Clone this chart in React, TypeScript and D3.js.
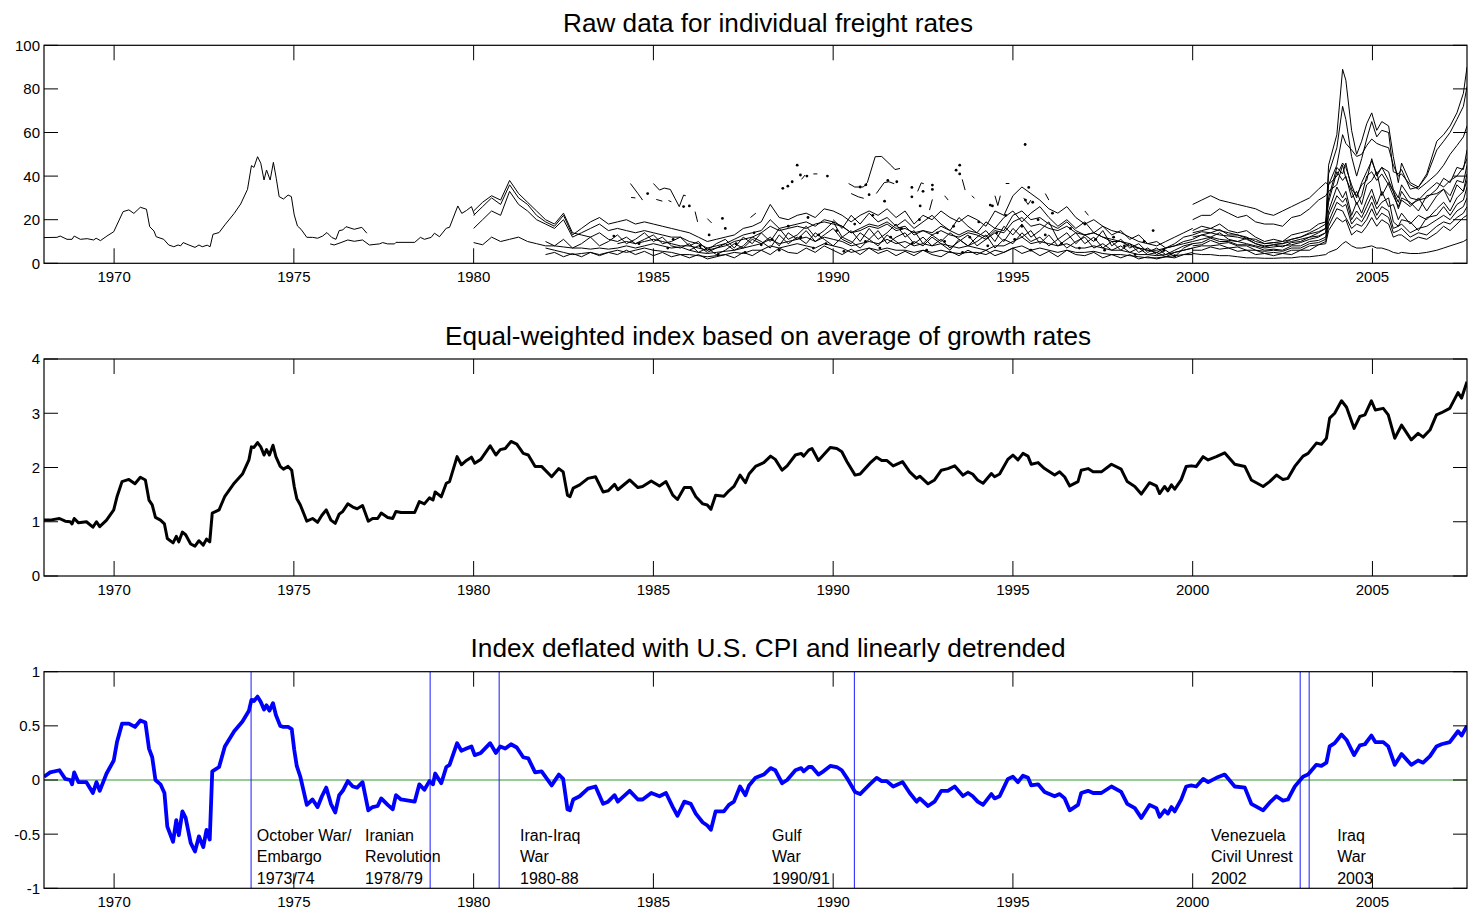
import * as d3 from "d3";

const W = 1468;
const H = 909;
const PLOT_LEFT = 44;
const PLOT_RIGHT = 1467;
const X_DOMAIN = [1968.05, 2007.63];
const X_TICKS = [1970, 1975, 1980, 1985, 1990, 1995, 2000, 2005];
const FONT = "'Liberation Sans', Arial, sans-serif";

// index series (middle + bottom panels share the same dates)
const INDEX_DATES = [
  1968.05, 1968.22, 1968.48, 1968.64, 1968.78, 1968.83, 1968.89, 1969.01, 1969.23, 1969.41,
  1969.51, 1969.6, 1969.79, 1969.99, 1970.08, 1970.22, 1970.41, 1970.58, 1970.73, 1970.87,
  1970.97, 1971.06, 1971.15, 1971.29, 1971.4, 1971.48, 1971.64, 1971.73, 1971.8, 1971.9,
  1971.99, 1972.13, 1972.25, 1972.36, 1972.48, 1972.57, 1972.66, 1972.73, 1972.92, 1973.08,
  1973.34, 1973.57, 1973.75, 1973.82, 1973.89, 1973.99, 1974.08, 1974.17, 1974.24, 1974.32,
  1974.42, 1974.5, 1974.62, 1974.71, 1974.84, 1974.94, 1975.01, 1975.08, 1975.18, 1975.36,
  1975.52, 1975.66, 1975.78, 1975.9, 1976.03, 1976.15, 1976.26, 1976.36, 1976.5, 1976.64,
  1976.76, 1976.91, 1977.07, 1977.19, 1977.33, 1977.43, 1977.61, 1977.75, 1977.84, 1977.98,
  1978.36, 1978.49, 1978.63, 1978.77, 1978.87, 1978.93, 1979.1, 1979.24, 1979.33, 1979.54,
  1979.66, 1979.8, 1979.94, 1980.03, 1980.2, 1980.46, 1980.62, 1980.74, 1980.88, 1981.04,
  1981.2, 1981.38, 1981.52, 1981.71, 1981.89, 1982.17, 1982.37, 1982.49, 1982.61, 1982.68,
  1982.77, 1982.95, 1983.18, 1983.39, 1983.6, 1983.74, 1983.92, 1984.01, 1984.34, 1984.57,
  1984.7, 1984.94, 1985.17, 1985.35, 1985.54, 1985.67, 1985.86, 1986.04, 1986.18, 1986.37,
  1986.5, 1986.6, 1986.73, 1986.96, 1987.1, 1987.24, 1987.41, 1987.56, 1987.66, 1987.84,
  1988.07, 1988.26, 1988.39, 1988.58, 1988.72, 1988.95, 1989.11, 1989.18, 1989.32, 1989.41,
  1989.59, 1989.73, 1989.92, 1990.1, 1990.24, 1990.38, 1990.61, 1990.75, 1991.02, 1991.21,
  1991.35, 1991.49, 1991.67, 1991.93, 1992.13, 1992.32, 1992.41, 1992.64, 1992.82, 1993.01,
  1993.19, 1993.38, 1993.61, 1993.75, 1993.88, 1994.02, 1994.17, 1994.4, 1994.49, 1994.63,
  1994.86, 1995.0, 1995.14, 1995.28, 1995.42, 1995.51, 1995.7, 1995.88, 1996.16, 1996.3,
  1996.44, 1996.58, 1996.81, 1996.9, 1997.09, 1997.23, 1997.46, 1997.74, 1998.01, 1998.18,
  1998.39, 1998.57, 1998.8, 1998.99, 1999.08, 1999.22, 1999.31, 1999.41, 1999.5, 1999.68,
  1999.82, 1999.96, 2000.1, 2000.29, 2000.43, 2000.66, 2000.89, 2001.17, 2001.45, 2001.63,
  2001.96, 2002.14, 2002.33, 2002.51, 2002.65, 2002.84, 2003.07, 2003.21, 2003.44, 2003.58,
  2003.72, 2003.81, 2003.95, 2004.14, 2004.28, 2004.49, 2004.65, 2004.79, 2004.97, 2005.08,
  2005.3, 2005.44, 2005.62, 2005.81, 2006.08, 2006.27, 2006.41, 2006.6, 2006.78, 2006.92,
  2007.15, 2007.38, 2007.48, 2007.63,
];

const EQUAL_WEIGHTED = [
  1.03, 1.03, 1.06, 1.01, 1.0, 0.96, 1.06, 0.98, 1.0, 0.9,
  1.0, 0.91, 1.03, 1.22, 1.46, 1.74, 1.78, 1.7, 1.82, 1.77,
  1.4, 1.31, 1.08, 1.03, 0.96, 0.69, 0.61, 0.73, 0.63, 0.81,
  0.76, 0.59, 0.55, 0.65, 0.57, 0.68, 0.63, 1.16, 1.22, 1.47,
  1.71, 1.88, 2.14, 2.38, 2.37, 2.46, 2.38, 2.23, 2.33, 2.23,
  2.41, 2.2, 2.02, 1.97, 2.02, 1.95, 1.65, 1.43, 1.31, 1.01,
  1.06, 0.99, 1.12, 1.22, 1.03, 0.97, 1.14, 1.19, 1.33, 1.27,
  1.24, 1.3, 1.01, 1.06, 1.06, 1.16, 1.08, 1.06, 1.19, 1.17,
  1.17, 1.37, 1.33, 1.44, 1.4, 1.55, 1.46, 1.71, 1.74, 2.2,
  2.05, 2.13, 2.19, 2.08, 2.15, 2.4, 2.23, 2.33, 2.35, 2.48,
  2.43, 2.26, 2.23, 2.02, 2.02, 1.83, 1.98, 1.92, 1.49, 1.46,
  1.62, 1.68, 1.8, 1.83, 1.55, 1.57, 1.69, 1.59, 1.77, 1.63,
  1.65, 1.75, 1.66, 1.74, 1.49, 1.41, 1.63, 1.63, 1.46, 1.33,
  1.31, 1.23, 1.49, 1.47, 1.57, 1.65, 1.86, 1.72, 1.88, 2.02,
  2.09, 2.21, 2.15, 1.95, 2.03, 2.23, 2.26, 2.21, 2.32, 2.35,
  2.13, 2.23, 2.37, 2.35, 2.29, 2.11, 1.86, 1.88, 2.08, 2.19,
  2.13, 2.13, 2.03, 2.11, 1.92, 1.8, 1.84, 1.7, 1.77, 1.95,
  1.98, 2.03, 1.86, 1.92, 1.88, 1.77, 1.71, 1.89, 1.83, 1.88,
  2.15, 2.23, 2.14, 2.26, 2.21, 2.06, 2.09, 1.98, 1.86, 1.92,
  1.83, 1.66, 1.74, 1.95, 1.98, 1.92, 1.92, 2.06, 1.97, 1.74,
  1.65, 1.51, 1.72, 1.66, 1.52, 1.65, 1.57, 1.68, 1.6, 1.77,
  2.02, 2.03, 2.02, 2.2, 2.14, 2.2, 2.27, 2.06, 2.02, 1.77,
  1.65, 1.74, 1.86, 1.78, 1.8, 2.02, 2.21, 2.26, 2.45, 2.43,
  2.54, 2.91, 3.0, 3.23, 3.11, 2.72, 2.94, 2.97, 3.23, 3.06,
  3.09, 2.97, 2.54, 2.78, 2.51, 2.63, 2.56, 2.69, 2.97, 3.01,
  3.09, 3.38, 3.28, 3.58,
];

const DETRENDED = [
  0.03, 0.07, 0.09, 0.01, 0.0, -0.04, 0.07, -0.02, -0.02, -0.12,
  -0.02, -0.1, 0.06, 0.18, 0.35, 0.52, 0.52, 0.49, 0.55, 0.53,
  0.29, 0.21, 0.0, -0.04, -0.12, -0.43, -0.57, -0.37, -0.51, -0.29,
  -0.35, -0.58, -0.66, -0.52, -0.62, -0.46, -0.55, 0.08, 0.12, 0.31,
  0.45, 0.54, 0.64, 0.74, 0.73, 0.77, 0.72, 0.65, 0.69, 0.64,
  0.71, 0.6, 0.5, 0.49, 0.49, 0.47, 0.28, 0.13, 0.03, -0.23,
  -0.18, -0.25, -0.15, -0.07, -0.22, -0.3, -0.14, -0.1, -0.01, -0.06,
  -0.07, -0.02, -0.28, -0.25, -0.24, -0.17, -0.23, -0.27, -0.14, -0.18,
  -0.2, -0.04, -0.09, -0.01, -0.04, 0.06, -0.03, 0.12, 0.14, 0.34,
  0.27, 0.29, 0.31, 0.23, 0.25, 0.34, 0.25, 0.31, 0.29, 0.33,
  0.3, 0.21, 0.2, 0.07, 0.08, -0.05, 0.05, 0.01, -0.27, -0.28,
  -0.18, -0.15, -0.08, -0.06, -0.22, -0.2, -0.14, -0.2, -0.1, -0.18,
  -0.18, -0.12, -0.15, -0.12, -0.25, -0.33, -0.2, -0.22, -0.31, -0.39,
  -0.42, -0.46, -0.29, -0.29, -0.23, -0.2, -0.06, -0.14, -0.05, 0.02,
  0.05, 0.11, 0.09, -0.03, 0.0, 0.09, 0.11, 0.08, 0.12, 0.12,
  0.05, 0.08, 0.13, 0.12, 0.09, 0.02, -0.11, -0.13, -0.04, 0.02,
  -0.01, -0.01, -0.06, -0.02, -0.12, -0.2, -0.17, -0.24, -0.2, -0.1,
  -0.1, -0.06, -0.15, -0.12, -0.15, -0.2, -0.23, -0.13, -0.17, -0.15,
  0.01, 0.03, -0.02, 0.04, 0.02, -0.05, -0.04, -0.11, -0.15, -0.13,
  -0.17, -0.28, -0.23, -0.12, -0.1, -0.12, -0.12, -0.06, -0.11, -0.22,
  -0.26, -0.35, -0.23, -0.26, -0.34, -0.28, -0.31, -0.25, -0.29, -0.18,
  -0.06, -0.05, -0.06, 0.01, -0.02, 0.02, 0.05, -0.06, -0.07, -0.22,
  -0.28, -0.21, -0.15, -0.19, -0.18, -0.06, 0.03, 0.05, 0.14, 0.13,
  0.16, 0.31, 0.34, 0.42, 0.37, 0.23, 0.32, 0.33, 0.41, 0.35,
  0.35, 0.31, 0.14, 0.24, 0.14, 0.18, 0.16, 0.22, 0.31, 0.33,
  0.35, 0.45, 0.41, 0.5,
];

// raw freight rates: two early series
const EARLY_A_DATES = [
  1968.05, 1968.41, 1968.5, 1968.69, 1968.83, 1968.89, 1969.06, 1969.25, 1969.43, 1969.5,
  1969.62, 1969.8, 1969.99, 1970.25, 1970.41, 1970.55, 1970.73, 1970.9, 1970.99, 1971.11,
  1971.17, 1971.38, 1971.52, 1971.66, 1971.78, 1971.85, 1971.92, 1972.08, 1972.25, 1972.36,
  1972.45, 1972.59, 1972.67, 1972.75, 1972.92, 1973.08, 1973.34, 1973.52, 1973.71, 1973.82,
  1973.89, 1973.99, 1974.08, 1974.17, 1974.24, 1974.34, 1974.43, 1974.51, 1974.59, 1974.71,
  1974.84, 1974.93, 1975.01, 1975.1, 1975.2, 1975.36, 1975.52, 1975.66, 1975.8, 1975.92,
  1976.05, 1976.17, 1976.26, 1976.36, 1976.45, 1976.68, 1976.89, 1977.03,
];
const EARLY_A = [
  11.8, 11.9, 12.5, 11, 11, 12.5, 11, 11.3, 10.7, 11.5,
  10.4, 12.5, 14.5, 23.7, 24.5, 22.9, 25.7, 24.8, 16.8, 14.8,
  12.2, 11, 8.4, 7.6, 8.4, 8, 9.5, 8.4, 7.3, 8.4,
  7.6, 8.3, 7.6, 13.3, 14.1, 17.6, 22.9, 27.2, 33.9, 44.8,
  44, 48.9, 45.9, 38.2, 42.8, 38.2, 46.3, 39, 30.6, 29.5,
  31.3, 30.6, 22.2, 17.1, 15.6, 11.9, 11.9, 11.5, 12.5, 14.1,
  11.9, 11, 15, 15.3, 16.8, 15.6, 16.5, 13.8,
];
const EARLY_B_DATES = [
  1976.01, 1976.12, 1976.31, 1976.5, 1976.68, 1976.91, 1977.1, 1977.38, 1977.47, 1977.61,
  1977.8, 1977.84, 1978.36, 1978.52, 1978.63, 1978.82, 1978.91, 1979.05, 1979.24, 1979.33,
  1979.56, 1979.67, 1979.8, 1979.94, 1980.03,
];
const EARLY_B = [
  8.9, 8.4, 9.5, 10.7, 10.1, 10.7, 8.4, 8.9, 9.5, 8.9,
  8.9, 9.6, 9.6, 11.9, 11, 11.9, 13.8, 12.2, 16.1, 16.5,
  26.3, 22.9, 24.2, 26, 22,
];

// raw freight rates 1980-2000, quarterly
const MID_DATES = [
  1980, 1980.25, 1980.5, 1980.75, 1981, 1981.25, 1981.5, 1981.75,
  1982, 1982.25, 1982.5, 1982.75, 1983, 1983.25, 1983.5, 1983.75,
  1984, 1984.25, 1984.5, 1984.75, 1985, 1985.25, 1985.5, 1985.75,
  1986, 1986.25, 1986.5, 1986.75, 1987, 1987.25, 1987.5, 1987.75,
  1988, 1988.25, 1988.5, 1988.75, 1989, 1989.25, 1989.5, 1989.75,
  1990, 1990.25, 1990.5, 1990.75, 1991, 1991.25, 1991.5, 1991.75,
  1992, 1992.25, 1992.5, 1992.75, 1993, 1993.25, 1993.5, 1993.75,
  1994, 1994.25, 1994.5, 1994.75, 1995, 1995.25, 1995.5, 1995.75,
  1996, 1996.25, 1996.5, 1996.75, 1997, 1997.25, 1997.5, 1997.75,
  1998, 1998.25, 1998.5, 1998.75, 1999, 1999.25, 1999.5, 1999.75,
  2000,
];
const N = null;
const MID_1 = [
  22, 26, 30, 27, 36, 30, 27, 22,
  19, 17, 22, 13, 16, 19, 21, 18,
  19, 20, 18, 19, 18, 17, 16, 15,
  14, 12, 10, 11, 12, 13, 16, 17,
  19, 27, 21, 20, 22, 23, 21, 25,
  24, 22, 19, 22, 24, 22, 25, 21,
  24, 18, 22, 20, 24, 21, 19, 22,
  20, 17, 24, 22, 31, 35, 32, 29,
  25, 23, 26, 21, 18, 20, 17, 15,
  14, 12, 10, 9, 8, 10, 12, 14,
  16,
];
const MID_2 = [
  16, 20, 24, 22, 33, 27, 24, 20,
  18, 16, 20, 12, 14, 16, 18, 15,
  16, 15, 14, 15, 14, 13, 12, 12,
  10, 9, 7, 8, 9, 11, 13, 14,
  15, 20, 16, 17, 18, 19, 17, 20,
  19, 17, 14, 16, 18, 17, 19, 16,
  17, 13, 15, 14, 17, 15, 13, 15,
  14, 12, 16, 15, 22, 24, 20, 21,
  18, 16, 19, 15, 13, 14, 12, 11,
  10, 9, 7, 6, 5, 7, 8, 10,
  11,
];
const MID_3 = [
  24, 28, 31, 29, 38, 32, 28, 24,
  20, 18, 23, 14, 13, 12, 14, 11,
  10, 12, 9, 11, 13, 9, 10, 12,
  8, 10, 6, 9, 11, 7, 12, 9,
  14, 10, 16, 11, 13, 17, 12, 15,
  19, 12, 15, 10, 16, 11, 14, 18,
  12, 15, 9, 13, 10, 14, 11, 8,
  12, 15, 10, 17, 13, 18, 12, 15,
  19, 11, 14, 9, 13, 10, 15, 8,
  11, 7, 9, 5, 7, 4, 6, 8,
  9,
];
const MID_4 = [
  9.5, 8.5, 12, 10, 11, 12, 10, 9,
  8, 8, 7.5, 7, 7, 6.5, 7, 6.5,
  7, 8, 7, 8, 9, 8, 7, 7.5,
  6, 5, 4.5, 5, 5.5, 6, 7, 8,
  9, 11, 9, 10, 11, 12, 10, 12,
  11, 10, 8, 9, 10, 9, 11, 9,
  10, 8, 9, 8, 9, 8, 7, 8,
  7, 6, 8, 8, 10, 12, 9, 10,
  9, 8, 9, 7, 7, 8, 7, 6,
  6, 5, 4, 4, 3.5, 4, 5, 6,
  7,
];
const MID_5 = [
  N, N, N, N, N, N, N, N,
  7, 6, 5, 4, 4.5, 5, 4, 5,
  6, 5, 6, 7, 6, 5.5, 5, 4,
  4, 3.5, 3, 3.5, 4, 5, 4.5, 6,
  6, 8, 7, 8, 9, 8, 7, 9,
  8, 7, 5, 6, 7, 6, 7, 6,
  6, 5, 6, 5, 6, 5, 4.5, 5,
  5, 4, 6, 5, 7, 8, 6, 7,
  6, 5, 6, 5, 5, 5.5, 4.5, 4,
  4, 3.5, 3, 2.5, 2.5, 3, 3.5, 4,
  5,
];
const MID_6 = [
  N, N, N, N, N, N, N, N,
  10, 8, 11, 7, 9, 12, 8, 10,
  13, 9, 11, 14, 10, 12, 8, 7,
  9, 5, 7, 4, 6, 9, 7, 11,
  9, 12, 8, 14, 11, 15, 10, 13,
  16, 11, 9, 14, 11, 15, 9, 12,
  14, 9, 12, 8, 11, 7, 10, 13,
  8, 11, 14, 10, 16, 12, 15, 9,
  13, 8, 11, 14, 9, 12, 7, 10,
  6, 9, 5, 7, 4, 6, 3, 7,
  9,
];
const MID_7 = [
  N, N, N, N, N, N, N, N,
  4, 5, 3, 4.5, 3, 5, 3.5, 5,
  4, 6, 4, 5.5, 3.5, 5, 3, 4,
  2.5, 4, 2, 3, 4, 2.5, 5, 3.5,
  6, 4, 7, 5, 4.5, 7, 5, 8,
  6, 4, 6.5, 4, 7, 4.5, 6, 3.5,
  5.5, 3.5, 6, 4, 3, 5.5, 3.5, 6,
  4, 6, 3.5, 5, 7, 4.5, 6, 3.5,
  5.5, 3, 6, 4, 3.5, 5, 2.5, 4,
  2.5, 4, 2, 3, 2, 3, 2.5, 4,
  4,
];
const MID_8 = [
  N, N, N, N, N, N, N, N,
  N, N, N, N, N, N, N, N,
  9, 10, 9, 10, 11, 10, 9, 8,
  8, 7, 6, 7, 8, 10, 11, 12,
  14, 17, 15, 16, 17, 16, 18, 19,
  18, 17, 14, 15, 17, 16, 18, 15,
  16, 14, 15, 13, 15, 13, 12, 14,
  13, 11, 15, 14, 19, 21, 17, 18,
  16, 15, 17, 14, 13, 14, 12, 10,
  10, 8, 7, 6, 6, 7, 8, 9,
  10,
];
const MID_9 = [
  N, N, N, N, N, N, N, N,
  N, N, N, N, N, N, N, N,
  N, N, N, N, N, N, N, N,
  6, 8, 5, 7, 9, 6, 8, 12,
  10, 7, 13, 9, 12, 9, 14, 11,
  8, 12, 10, 7, 11, 8, 13, 10,
  7, 10, 8, 12, 9, 6, 11, 8,
  10, 13, 7, 11, 9, 14, 10, 12,
  8, 11, 7, 10, 12, 7, 9, 6,
  8, 5, 7, 4, 5, 3, 5, 6,
  7,
];
const MID_10 = [
  N, N, N, N, N, N, N, N,
  N, N, N, N, N, N, N, N,
  N, N, N, N, N, N, N, N,
  N, N, N, N, N, N, N, N,
  N, N, N, N, N, N, N, N,
  20, 16, 22, 18, 23, 19, 21, 17,
  20, 16, 19, 22, 18, 15, 21, 17,
  14, 19, 16, 21, 24, 19, 23, 26,
  21, 17, 20, 16, 19, 14, 17, 13,
  15, 11, 13, 9, 10, 7, 9, 12,
  13,
];

// raw freight rates 2000-2007
const LATE_DATES = [
  2000, 2000.25, 2000.5, 2000.75, 2001, 2001.25, 2001.5, 2001.75, 2002, 2002.25,
  2002.5, 2002.75, 2003, 2003.25, 2003.5, 2003.7, 2003.78, 2004.01, 2004.17, 2004.26,
  2004.42, 2004.56, 2004.7, 2004.84, 2004.98, 2005.12, 2005.26, 2005.45, 2005.58, 2005.72,
  2005.81, 2006.05, 2006.28, 2006.51, 2006.79, 2006.98, 2007.16, 2007.35, 2007.53, 2007.63,
];
const LATE_1 = [14, 15, 16, 15, 14, 13, 12, 10, 9, 9.5, 10, 11, 12, 14, 16, 18, 45, 59, 89, 84, 61, 50, 56, 64, 69, 61, 65, 63, 49, 37, 46, 37, 35, 41, 56, 59, 63, 69, 78, 90];
const LATE_2 = [12, 13, 14, 13, 12.5, 12, 11, 9, 8, 8.5, 9, 10, 11, 12, 14, 16, 41, 53, 72, 66, 49, 40, 48, 57, 65, 58, 61, 60, 42, 41, 43, 34, 35, 40, 52, 56, 60, 66, 72, 81];
const LATE_3 = [10, 11, 12, 11, 10.5, 10, 9, 8, 7, 7.5, 8, 8.5, 9.5, 11, 12, 14, 36, 45, 59, 55, 52, 49, 50, 54, 57, 55, 54, 53, 45, 40, 41, 36, 34, 37, 41, 45, 50, 54, 58, 63];
const LATE_4 = [27, 29, 31, 29, 28, 27, 26, 25, 23, 22, 24, 26, 28, 30, 34, 37, 36, 40, 46, 44, 36, 30, 37, 42, 47, 41, 44, 42, 34, 30, 36, 30, 29, 33, 37, 35, 38, 40, 44, 48];
const LATE_5 = [20, 22, 22, 25, 23, 21, 22, 19, 18, 18, 17, 21, 22, 25, 29, 31, 33, 36, 45, 39, 33, 27, 31, 40, 42, 38, 41, 36, 31, 26, 30, 28, 24, 31, 32, 34, 31, 38, 37, 45];
const LATE_6 = [15, 17, 16, 18, 15, 14, 15, 12, 10, 11, 10, 13, 14, 15, 18, 19, 28, 42, 38, 40, 30, 33, 27, 36, 38, 42, 31, 37, 33, 25, 29, 26, 30, 24, 31, 34, 28, 36, 33, 41];
const LATE_7 = [11, 13, 12, 14, 11, 10, 11.5, 9, 7.5, 8.5, 7.5, 9.5, 10, 12, 12.5, 14, 24, 35, 30, 33, 22, 28, 23, 29, 34, 27, 33, 26, 27, 20, 23, 18, 22, 20, 25, 28, 24, 30, 33, 38];
const LATE_8 = [9, 9.5, 11.5, 10, 10, 8.5, 8.5, 7.5, 6, 6.5, 6, 8, 8, 10, 10.5, 12, 22, 31, 28, 30, 20, 24, 21, 26, 31, 25, 28, 30, 19, 17, 20, 19, 15, 21, 22, 26, 22, 27, 29, 35];
const LATE_9 = [8, 8.5, 10.5, 9, 9.5, 8, 8, 6, 5.5, 6, 5.5, 7, 7, 9, 9.5, 11, 19, 28, 26, 27, 18, 21, 19, 23, 28, 22, 26, 24, 16, 17, 18, 14, 16, 17, 20, 22, 20, 24, 26, 30];
const LATE_10 = [7, 8, 8, 8.5, 7, 7.5, 6, 6, 4.5, 5, 4.5, 6, 6, 8, 8.5, 10, 17, 25, 24, 21, 16, 18, 17, 20, 25, 20, 23, 21, 14, 15, 16, 12, 14, 13, 17, 19, 18, 21, 23, 26];
const LATE_11 = [6, 6, 7.5, 6.5, 7, 5.5, 6, 4, 4.5, 3.5, 4.5, 4, 6, 6, 8.5, 9, 15, 21, 19, 20, 13, 15, 14, 17, 21, 17, 20, 18, 12, 13, 13, 10, 12, 11, 14, 17, 15, 18, 21, 22];
const LATE_12 = [4.5, 4, 4, 3.5, 3.5, 3, 2.5, 2.5, 2.3, 2.3, 2.5, 2.5, 3, 3, 3.5, 4, 5, 6.5, 9, 10, 8, 7, 7, 7.5, 8, 7, 7, 6, 5, 4.5, 5, 4.5, 4.5, 5, 6, 7, 8, 9, 10, 11];
const LATE_13 = [13, 14.5, 14, 15.5, 13, 13, 11.5, 11, 9, 9.5, 9, 11, 12, 13.5, 14.5, 16, 30, 44, 41, 46, 34, 31, 36, 38, 48, 40, 44, 38, 33, 28, 33, 27, 29, 30, 34, 39, 37, 44, 43, 52];

// short broken pieces of series with gaps, [year, rate]
const PIECES = [
  [[1984.36, 36.6], [1984.57, 32], [1984.7, 29]],
  [[1984.38, 30.2], [1984.5, 30]],
  [[1985.0, 36.6], [1985.17, 33.6], [1985.3, 34.5], [1985.47, 33.9], [1985.6, 29.8], [1985.72, 26], [1985.84, 31.3], [1985.9, 31]],
  [[1985.08, 29.3], [1985.25, 28.5]],
  [[1985.42, 28.8], [1985.5, 28.2]],
  [[1986.16, 23.7], [1986.23, 19]],
  [[1986.5, 20.5], [1986.62, 18.5]],
  [[1987.7, 21], [1987.85, 23]],
  [[1989.12, 38.5], [1989.22, 40.5]],
  [[1989.45, 41], [1989.56, 41]],
  [[1990.43, 36.6], [1990.6, 35], [1990.84, 35], [1990.95, 37], [1991.17, 48.9], [1991.35, 49], [1991.63, 44.6], [1991.72, 43], [1991.86, 43.5]],
  [[1990.5, 32], [1990.7, 30.5], [1990.85, 29.8]],
  [[1991.2, 32], [1991.42, 37], [1991.55, 37.4], [1991.7, 36.5]],
  [[1992.35, 33], [1992.45, 36.9], [1992.52, 36.5]],
  [[1992.68, 24.4], [1992.76, 29.3]],
  [[1993.1, 31], [1993.2, 29]],
  [[1993.59, 38.5], [1993.67, 33.6]],
  [[1993.86, 31], [1993.93, 29.8]],
  [[1994.5, 31], [1994.58, 26.5], [1994.65, 31]],
  [[1994.8, 36.6], [1994.9, 36.6]],
  [[1995.3, 30], [1995.42, 27], [1995.5, 29]],
  [[1995.9, 32], [1996.0, 29]],
  [[1997.0, 24], [1997.1, 22]],
];

const DOTS = [
  [1984.84, 32], [1985.84, 26], [1986.0, 26.3], [1986.92, 20.6], [1988.6, 34.4], [1988.74, 35.4],
  [1988.86, 37.4], [1989.0, 45], [1989.09, 40.5], [1989.27, 40], [1989.84, 40], [1990.75, 35],
  [1990.91, 36], [1991.0, 31.5], [1991.43, 28.5], [1991.52, 38], [1991.77, 37.4], [1992.19, 34.8],
  [1992.19, 30.5], [1992.42, 26.3], [1992.5, 33], [1992.76, 35.9], [1992.76, 33.9], [1993.42, 42.7],
  [1993.52, 45], [1993.52, 41], [1994.37, 26.7], [1994.43, 26.3], [1995.34, 54.5], [1995.44, 34.8],
  [1995.35, 29], [1995.55, 28],
  [1983.9, 12.5], [1984.6, 9], [1985.4, 7], [1985.55, 11], [1986.3, 8], [1986.55, 13], [1986.8, 4],
  [1987.0, 16], [1987.3, 9], [1987.55, 5], [1987.8, 14], [1988.0, 8.5], [1988.3, 11], [1988.5, 6],
  [1988.75, 17], [1989.1, 12], [1989.3, 21], [1989.45, 7], [1989.6, 13], [1989.8, 9], [1990.1, 15],
  [1990.3, 5.5], [1990.6, 18], [1990.9, 10], [1991.1, 22], [1991.3, 7], [1991.6, 12], [1991.9, 16],
  [1992.2, 9], [1992.4, 20], [1992.6, 6], [1992.9, 14], [1993.1, 10], [1993.35, 17], [1993.6, 5],
  [1993.8, 12], [1994.05, 19], [1994.3, 8], [1994.55, 14], [1994.8, 22], [1995.05, 11], [1995.25, 17],
  [1995.5, 6], [1995.7, 20], [1995.9, 13], [1996.1, 23], [1996.35, 9], [1996.6, 16], [1996.85, 7],
  [1997.0, 18], [1997.3, 11], [1997.55, 6], [1997.8, 12], [1998.1, 8], [1998.4, 4], [1998.65, 10],
  [1998.9, 15], [1999.2, 6], [1999.5, 3.5],
];

// event markers in the bottom panel
const EVENT_YEARS = [1973.81, 1978.79, 1980.71, 1990.59, 2002.99, 2003.24];
const EVENT_LABEL_YEARS = [1973.97, 1976.98, 1981.29, 1988.3, 2000.51, 2004.02];
const EVENT_LABELS = [
  ["October War/", "Embargo", "1973/74"],
  ["Iranian", "Revolution", "1978/79"],
  ["Iran-Iraq", "War", "1980-88"],
  ["Gulf", "War", "1990/91"],
  ["Venezuela", "Civil Unrest", "2002"],
  ["Iraq", "War", "2003"],
];

const MID_SERIES = [MID_1, MID_2, MID_3, MID_4, MID_5, MID_6, MID_7, MID_8, MID_9, MID_10];
const LATE_SERIES = [LATE_1, LATE_2, LATE_3, LATE_4, LATE_5, LATE_6, LATE_7, LATE_8, LATE_9, LATE_10, LATE_11, LATE_12, LATE_13];

const x = d3.scaleLinear().domain(X_DOMAIN).range([PLOT_LEFT, PLOT_RIGHT]);
const yRaw = d3.scaleLinear().domain([0, 100]).range([263.3, 45.3]);
const yIndex = d3.scaleLinear().domain([0, 4]).range([576, 359]);
const yDet = d3.scaleLinear().domain([-1, 1]).range([888.3, 671.7]);

function seriesPath(dates: number[], values: (number | null)[], y: d3.ScaleLinear<number, number>) {
  return (
    d3
      .line<number | null>()
      .defined((v) => v != null)
      .x((_, i) => x(dates[i]))
      .y((v) => y(v as number))(values) || ""
  );
}

function piecePath(points: number[][], y: d3.ScaleLinear<number, number>) {
  return d3.line<number[]>().x((p) => x(p[0])).y((p) => y(p[1]))(points) || "";
}

function Frame({
  y,
  ticks,
  title,
  titleY,
  titleLength,
}: {
  y: d3.ScaleLinear<number, number>;
  ticks: number[];
  title: string;
  titleY: number;
  titleLength: number;
}) {
  const [bottom, top] = y.range();
  return (
    <g fontFamily={FONT} fill="#000">
      <text x={768} y={titleY} textAnchor="middle" fontSize={25} textLength={titleLength} lengthAdjust="spacingAndGlyphs">
        {title}
      </text>
      <rect x={PLOT_LEFT} y={top} width={PLOT_RIGHT - PLOT_LEFT} height={bottom - top} fill="none" stroke="#000" strokeWidth={1.2} />
      {X_TICKS.map((t) => (
        <g key={t}>
          <line x1={x(t)} x2={x(t)} y1={top} y2={top + 15} stroke="#000" strokeWidth={1} />
          <line x1={x(t)} x2={x(t)} y1={bottom} y2={bottom - 15} stroke="#000" strokeWidth={1} />
          <text x={x(t)} y={bottom + 18.7} textAnchor="middle" fontSize={15}>
            {t}
          </text>
        </g>
      ))}
      {ticks.map((v) => (
        <g key={v}>
          <line x1={PLOT_LEFT} x2={PLOT_LEFT + 14} y1={y(v)} y2={y(v)} stroke="#000" strokeWidth={1} />
          <line x1={PLOT_RIGHT} x2={PLOT_RIGHT - 14} y1={y(v)} y2={y(v)} stroke="#000" strokeWidth={1} />
          <text x={40} y={y(v) + 5.4} textAnchor="end" fontSize={15}>
            {String(v)}
          </text>
        </g>
      ))}
    </g>
  );
}

function ClipRect({ id, y }: { id: string; y: d3.ScaleLinear<number, number> }) {
  const [bottom, top] = y.range();
  return (
    <clipPath id={id}>
      <rect x={PLOT_LEFT} y={top} width={PLOT_RIGHT - PLOT_LEFT} height={bottom - top} />
    </clipPath>
  );
}

export default function App() {
  const labelTop = 840.7;
  return (
    <div>
      <style>{"body{margin:0;background:#fff}"}</style>
      <svg width={W} height={H} viewBox={`0 0 ${W} ${H}`} style={{ display: "block" }}>
        <defs>
          <ClipRect id="clip-raw" y={yRaw} />
          <ClipRect id="clip-index" y={yIndex} />
          <ClipRect id="clip-det" y={yDet} />
        </defs>
        <rect width={W} height={H} fill="#fff" />

        {/* panel 1: raw freight rates */}
        <g clipPath="url(#clip-raw)" fill="none" stroke="#000" strokeWidth={1} strokeLinejoin="round">
          <path d={seriesPath(EARLY_A_DATES, EARLY_A, yRaw)} />
          <path d={seriesPath(EARLY_B_DATES, EARLY_B, yRaw)} />
          {MID_SERIES.map((s, i) => (
            <path key={`m${i}`} d={seriesPath(MID_DATES, s, yRaw)} />
          ))}
          {LATE_SERIES.map((s, i) => (
            <path key={`l${i}`} d={seriesPath(LATE_DATES, s, yRaw)} />
          ))}
          {PIECES.map((p, i) => (
            <path key={`p${i}`} d={piecePath(p, yRaw)} />
          ))}
          {DOTS.map((d, i) => (
            <circle key={`d${i}`} cx={x(d[0])} cy={yRaw(d[1])} r={1.4} fill="#000" stroke="none" />
          ))}
        </g>
        <Frame y={yRaw} ticks={[0, 20, 40, 60, 80, 100]} title="Raw data for individual freight rates" titleY={31.5} titleLength={410} />

        {/* panel 2: equal-weighted index */}
        <g clipPath="url(#clip-index)">
          <path d={seriesPath(INDEX_DATES, EQUAL_WEIGHTED, yIndex)} fill="none" stroke="#000" strokeWidth={3} strokeLinejoin="round" />
        </g>
        <Frame
          y={yIndex}
          ticks={[0, 1, 2, 3, 4]}
          title="Equal-weighted index based on average of growth rates"
          titleY={344.5}
          titleLength={646}
        />

        {/* panel 3: deflated and detrended */}
        <g clipPath="url(#clip-det)">
          <line x1={PLOT_LEFT} x2={PLOT_RIGHT} y1={yDet(0)} y2={yDet(0)} stroke="#2f9a2f" strokeWidth={1.2} />
          {EVENT_YEARS.map((t) => (
            <line key={t} x1={x(t)} x2={x(t)} y1={yDet(1)} y2={yDet(-1)} stroke="#1a1aff" strokeWidth={1} />
          ))}
          <path d={seriesPath(INDEX_DATES, DETRENDED, yDet)} fill="none" stroke="#0000ff" strokeWidth={3.8} strokeLinejoin="round" />
        </g>
        <g fontFamily={FONT} fontSize={16} fill="#000">
          {EVENT_LABELS.map((lines, i) => (
            <text key={i} x={x(EVENT_LABEL_YEARS[i])} y={labelTop}>
              {lines.map((l, j) => (
                <tspan key={j} x={x(EVENT_LABEL_YEARS[i])} y={labelTop + j * 21.4}>
                  {l}
                </tspan>
              ))}
            </text>
          ))}
        </g>
        <Frame
          y={yDet}
          ticks={[-1, -0.5, 0, 0.5, 1]}
          title="Index deflated with U.S. CPI and linearly detrended"
          titleY={656.5}
          titleLength={595}
        />
      </svg>
    </div>
  );
}
